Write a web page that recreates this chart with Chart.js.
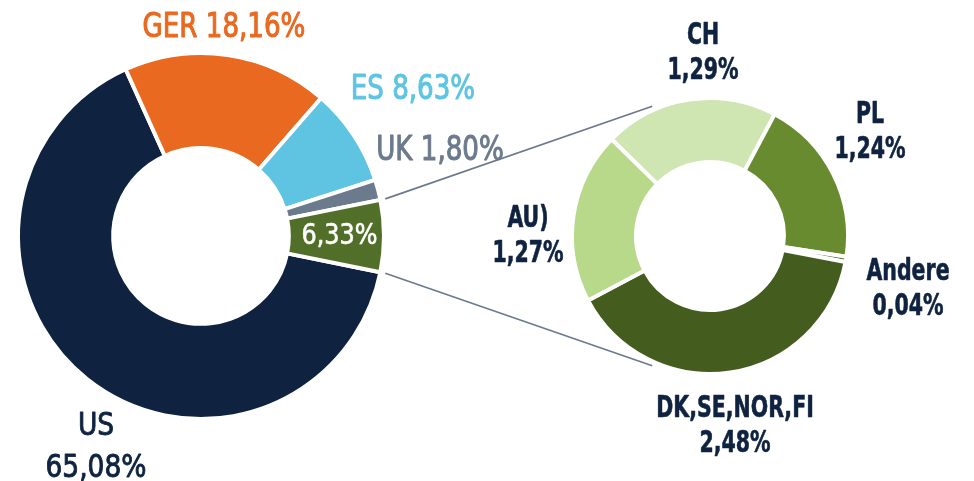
<!DOCTYPE html>
<html>
<head>
<meta charset="utf-8">
<script src="https://cdn.jsdelivr.net/npm/chart.js@4/dist/chart.umd.min.js"></script>
<style>
  html, body { margin: 0; padding: 0; background: #ffffff; }
  #wrap { position: relative; width: 974px; height: 481px; }
  #wrap canvas { position: absolute; left: 0; top: 0; }
</style>
</head>
<body>
<div id="wrap">
  <canvas id="main" width="974" height="481"></canvas>
  <canvas id="detail" width="974" height="481"></canvas>
</div>
<script>
// ---------- data ----------
const mainCategories = ['US', 'GER', 'ES', 'UK', 'Rest'];
const mainValues = [65.08, 18.16, 8.63, 1.80, 6.33];
const detailCategories = ['CH', 'PL', 'Andere', 'DK,SE,NOR,FI', 'AU)'];
const detailValues = [1.29, 1.24, 0.04, 2.48, 1.27];

// ---------- styles ----------
const mainColors = ['#0f2340', '#e8691f', '#5ec4e2', '#6b7a8c', '#526f29'];
const detailColors = ['#cfe5b2', '#688b2f', '#55752a', '#445d1f', '#b8d98a'];
const NAVY = '#0f2340';
const FONT = '"DejaVu Sans Condensed", "DejaVu Sans", sans-serif';

// label layout: offsets (px) from each doughnut's centre, one entry per slice
const mainLabelLayout = [
  { mode: 'two', dx: -105, dy: 199, gap: 42, color: NAVY },
  { mode: 'one', dx: 23, dy: -199, color: '#e8691f' },
  { mode: 'one', dx: 212, dy: -137, color: '#5ec4e2' },
  { mode: 'one', dx: 239, dy: -76, color: '#6b7a8c' },
  { mode: 'val', color: '#ffffff' }
];
const detailLabelLayout = [
  { dx: -7, dy: -192 },
  { dx: 160, dy: -113 },
  { dx: 198, dy: 44 },
  { dx: 25, dy: 181 },
  { dx: -182, dy: -9 }
];

const fmt = v => v.toFixed(2).replace('.', ',') + '%';

// condensed text: real text drawn with a horizontal squeeze
function drawText(ctx, text, x, y, sx, strokeW) {
  ctx.save();
  ctx.translate(x, y);
  ctx.scale(sx, 1);
  if (strokeW) {
    ctx.lineWidth = strokeW;
    ctx.lineJoin = 'round';
    ctx.strokeStyle = ctx.fillStyle;
    ctx.strokeText(text, 0, 0);
  }
  ctx.fillText(text, 0, 0);
  ctx.restore();
}

const mainLabelsPlugin = {
  id: 'mainLabels',
  afterDraw(chart) {
    const ctx = chart.ctx;
    const arcs = chart.getDatasetMeta(0).data;
    ctx.save();
    ctx.textAlign = 'center';
    arcs.forEach((arc, i) => {
      const L = mainLabelLayout[i];
      ctx.fillStyle = L.color;
      if (L.mode === 'val') {
        const mid = (arc.startAngle + arc.endAngle) / 2;
        const r = (arc.innerRadius + arc.outerRadius) / 2;
        ctx.font = '28px ' + FONT;
        ctx.textBaseline = 'middle';
        drawText(ctx, fmt(mainValues[i]), arc.x + Math.cos(mid) * r + 3, arc.y + Math.sin(mid) * r + 1, 0.95, 0.6);
      } else if (L.mode === 'one') {
        ctx.font = '33px ' + FONT;
        ctx.textBaseline = 'alphabetic';
        drawText(ctx, mainCategories[i] + ' ' + fmt(mainValues[i]), arc.x + L.dx, arc.y + L.dy, 0.88, 1);
      } else {
        ctx.font = '32px ' + FONT;
        ctx.textBaseline = 'alphabetic';
        drawText(ctx, mainCategories[i], arc.x + L.dx, arc.y + L.dy, 0.92, 0.9);
        drawText(ctx, fmt(mainValues[i]), arc.x + L.dx, arc.y + L.dy + L.gap, 0.92, 0.9);
      }
    });
    ctx.restore();
  }
};

const mainChart = new Chart(document.getElementById('main'), {
  type: 'doughnut',
  data: {
    labels: mainCategories,
    datasets: [{
      data: mainValues,
      backgroundColor: mainColors,
      borderColor: '#ffffff',
      borderWidth: 4
    }]
  },
  options: {
    responsive: false,
    animation: false,
    rotation: 101.4,
    cutout: '48%',
    layout: { padding: { left: 16, top: 51, right: 588, bottom: 60 } },
    plugins: { legend: { display: false }, tooltip: { enabled: false } }
  },
  plugins: [mainLabelsPlugin]
});

const detailPlugin = {
  id: 'detailLabels',
  afterDraw(chart) {
    const ctx = chart.ctx;
    const arcs = chart.getDatasetMeta(0).data;
    const c = arcs[0];
    ctx.save();
    // connector lines from the rest slice of the main doughnut to the detail doughnut
    const rest = mainChart.getDatasetMeta(0).data[4];
    const r1 = rest.outerRadius + 5;
    const r2 = c.outerRadius + 4;
    const endAng = 114 * Math.PI / 180;
    ctx.strokeStyle = '#6b7a8c';
    ctx.lineWidth = 1.6;
    ctx.beginPath();
    ctx.moveTo(rest.x + Math.cos(rest.startAngle) * r1, rest.y + Math.sin(rest.startAngle) * r1);
    ctx.lineTo(c.x + Math.cos(-endAng) * r2, c.y + Math.sin(-endAng) * r2);
    ctx.moveTo(rest.x + Math.cos(rest.endAngle) * r1, rest.y + Math.sin(rest.endAngle) * r1);
    ctx.lineTo(c.x + Math.cos(endAng) * r2, c.y + Math.sin(endAng) * r2);
    ctx.stroke();
    // labels
    ctx.textAlign = 'center';
    ctx.textBaseline = 'alphabetic';
    ctx.fillStyle = NAVY;
    ctx.font = 'bold 30px ' + FONT;
    arcs.forEach((arc, i) => {
      const L = detailLabelLayout[i];
      drawText(ctx, detailCategories[i], c.x + L.dx, c.y + L.dy, 0.76, 0.6);
      drawText(ctx, fmt(detailValues[i]), c.x + L.dx, c.y + L.dy + 35, 0.76, 0.6);
    });
    ctx.restore();
  }
};

new Chart(document.getElementById('detail'), {
  type: 'doughnut',
  data: {
    labels: detailCategories,
    datasets: [{
      data: detailValues,
      backgroundColor: detailColors,
      borderColor: '#ffffff',
      borderWidth: 4
    }]
  },
  options: {
    responsive: false,
    animation: false,
    rotation: -45.5,
    cutout: '53.6%',
    layout: { padding: { left: 570, top: 96, right: 124, bottom: 105 } },
    plugins: { legend: { display: false }, tooltip: { enabled: false } }
  },
  plugins: [detailPlugin]
});
</script>
</body>
</html>
